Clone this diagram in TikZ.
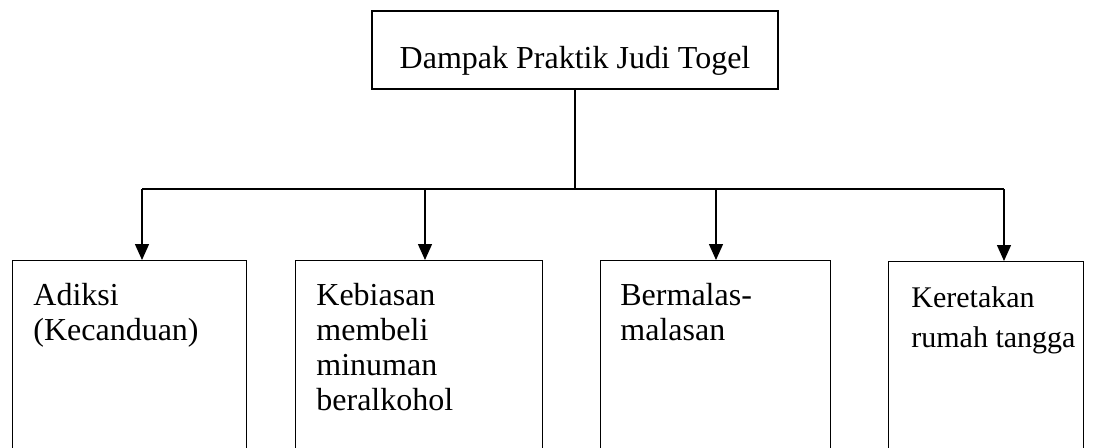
\documentclass[tikz,border=0pt]{standalone}
\usepackage{fontspec}
\setmainfont{Liberation Serif}
\usetikzlibrary{arrows.meta}

\begin{document}
\begin{tikzpicture}[x=0.5pt,y=-0.5pt,
    kotak/.style={rectangle,draw,line width=0.7pt,anchor=north west,minimum height=250pt,inner sep=0},
    teks/.style={anchor=north west,align=left,inner sep=0,font=\fontsize{16pt}{17.5pt}\selectfont},
    panah/.style={line width=0.7pt,-{Triangle[width=7pt,length=8pt]}}]
    \useasboundingbox (0,0) rectangle (1100,447);
    \clip (0,0) rectangle (1100,447);

    \node[rectangle,draw,line width=0.7pt,minimum width=203pt,minimum height=39pt,text height=18pt,text depth=0pt,inner sep=0,font=\fontsize{16pt}{17pt}\selectfont](dampak) at (575,50){Dampak Praktik Judi Togel};

    \node[kotak,minimum width=117pt](adiksi) at (12,260){};
    \node[kotak,minimum width=123.5pt](kebiasan) at (295,260){};
    \node[kotak,minimum width=115pt](malas) at (600,260){};
    \node[kotak,minimum width=97.5pt](retak) at (888,261){};

    \node[teks](t1) at ([xshift=10.5pt,yshift=-11.5pt]adiksi.north west){Adiksi\\(Kecanduan)};
    \node[teks](t2) at ([xshift=10.5pt,yshift=-11.5pt]kebiasan.north west){Kebiasan\\membeli\\minuman\\beralkohol};
    \node[teks](t3) at ([xshift=10pt,yshift=-11.5pt]malas.north west){Bermalas-\\malasan};
    \node[teks,font=\fontsize{15pt}{17pt}\selectfont](t4) at ([xshift=11.5pt,yshift=-12.5pt]retak.north west){Keretakan\\[3pt]rumah tangga};

    \coordinate (bar) at (575,189);
    \coordinate (c1) at (142,189);
    \coordinate (c2) at (425,189);
    \coordinate (c3) at (716,189);
    \coordinate (c4) at (1004,189);

    \draw[line width=0.7pt](dampak)--(bar);
    \draw[line width=0.7pt](c1)--(c4);
    \draw[panah](c1)--(c1 |- adiksi.north);
    \draw[panah](c2)--(c2 |- kebiasan.north);
    \draw[panah](c3)--(c3 |- malas.north);
    \draw[panah](c4)--(c4 |- retak.north);
\end{tikzpicture}
\end{document}
